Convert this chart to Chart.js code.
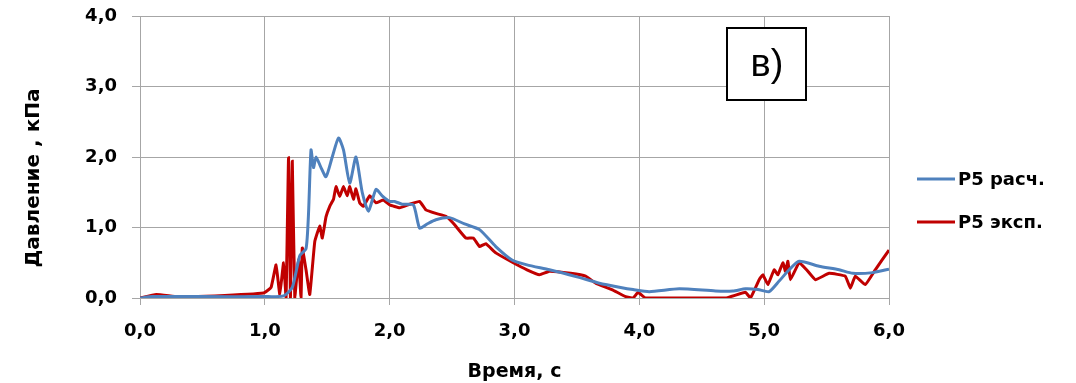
<!DOCTYPE html>
<html><head><meta charset="utf-8">
<script src="https://cdn.jsdelivr.net/npm/chart.js@4"></script>
<style>html,body{margin:0;padding:0;background:#fff}#wrap{width:1076px;height:383px}</style>
</head><body><div id="wrap"><canvas id="c" width="1076" height="383"></canvas></div>
<script>
const seriesNames = ["P5 расч.", "P5 эксп."];
const xTicks = [0, 1, 2, 3, 4, 5, 6];
const yTicks = [0, 1, 2, 3, 4];
const panelLabel = "в)";
const xTitle = "Время, с";
const yTitle = "Давление , кПа";

const timeCalc = [0, 0.1, 0.5, 1.0, 1.15, 1.22, 1.28, 1.33, 1.35, 1.37, 1.39, 1.41, 1.45, 1.49, 1.54, 1.59, 1.63, 1.68, 1.73, 1.78, 1.83, 1.89, 1.94, 2.0, 2.04, 2.1, 2.19, 2.24, 2.3, 2.37, 2.48, 2.6, 2.72, 2.85, 2.98, 3.1, 3.28, 3.5, 3.68, 3.85, 3.95, 4.08, 4.32, 4.61, 4.75, 4.85, 4.95, 5.04, 5.12, 5.2, 5.28, 5.44, 5.6, 5.71, 5.87, 6.0];
const pressureCalc = [0, 0.02, 0.02, 0.02, 0.03, 0.15, 0.6, 0.7, 1.2, 2.1, 1.85, 2.0, 1.85, 1.72, 2.0, 2.27, 2.1, 1.63, 2.0, 1.5, 1.23, 1.54, 1.45, 1.37, 1.37, 1.33, 1.32, 0.99, 1.05, 1.11, 1.14, 1.05, 0.97, 0.73, 0.54, 0.47, 0.40, 0.30, 0.21, 0.15, 0.12, 0.09, 0.13, 0.10, 0.10, 0.13, 0.12, 0.09, 0.24, 0.4, 0.52, 0.45, 0.40, 0.35, 0.36, 0.41];

const timeExp = [0, 0.13, 0.3, 0.6, 0.99, 1.05, 1.09, 1.12, 1.15, 1.17, 1.19, 1.205, 1.22, 1.24, 1.27, 1.29, 1.30, 1.33, 1.36, 1.40, 1.44, 1.46, 1.49, 1.52, 1.55, 1.57, 1.60, 1.63, 1.66, 1.68, 1.71, 1.73, 1.76, 1.79, 1.84, 1.89, 1.95, 2.0, 2.08, 2.16, 2.24, 2.29, 2.37, 2.45, 2.51, 2.61, 2.67, 2.72, 2.77, 2.85, 2.99, 3.1, 3.2, 3.28, 3.45, 3.57, 3.65, 3.78, 3.89, 3.95, 3.99, 4.05, 4.3, 4.69, 4.85, 4.89, 4.96, 4.99, 5.03, 5.08, 5.11, 5.15, 5.17, 5.19, 5.21, 5.28, 5.34, 5.41, 5.52, 5.65, 5.69, 5.73, 5.81, 5.89, 6.0];
const pressureExp = [0, 0.05, 0.02, 0.03, 0.07, 0.15, 0.47, 0.05, 0.5, 0.0, 1.99, 0.0, 1.94, 0.0, 0.55, 0.0, 0.71, 0.4, 0.05, 0.8, 1.02, 0.85, 1.15, 1.3, 1.4, 1.58, 1.44, 1.58, 1.45, 1.58, 1.4, 1.55, 1.35, 1.30, 1.45, 1.35, 1.39, 1.32, 1.28, 1.33, 1.37, 1.25, 1.2, 1.16, 1.06, 0.85, 0.85, 0.73, 0.77, 0.64, 0.50, 0.40, 0.33, 0.38, 0.35, 0.31, 0.21, 0.12, 0.02, 0.0, 0.08, 0.0, 0.0, 0.0, 0.08, 0.0, 0.26, 0.33, 0.19, 0.4, 0.33, 0.5, 0.38, 0.52, 0.26, 0.5, 0.4, 0.26, 0.35, 0.31, 0.14, 0.31, 0.19, 0.40, 0.68];

const colors = ["#4F81BD", "#C00000"];
const FONT = "'DejaVu Sans', Verdana, sans-serif";
const BOXFONT = "'Liberation Sans', Arial, sans-serif";
const fmt = v => Number(v).toFixed(1).replace('.', ',');

const toPts = (xs, ys) => xs.map((x, i) => ({x: x, y: ys[i]}));

const overlay = {
  id: 'overlay',
  afterDraw(chart) {
    const ctx = chart.ctx;
    ctx.save();
    // y-axis title
    ctx.save();
    ctx.translate(34, 178);
    ctx.rotate(-Math.PI / 2);
    ctx.fillStyle = '#000';
    ctx.font = "bold 20px " + FONT;
    ctx.textAlign = 'center';
    ctx.textBaseline = 'middle';
    ctx.fillText(yTitle, 0, 0);
    ctx.restore();
    // panel label box
    ctx.fillStyle = '#fff';
    ctx.fillRect(727, 28, 79, 72);
    ctx.strokeStyle = '#000';
    ctx.lineWidth = 2;
    ctx.strokeRect(727, 28, 79, 72);
    ctx.fillStyle = '#000';
    ctx.font = "38px " + BOXFONT;
    ctx.textAlign = 'center';
    ctx.textBaseline = 'middle';
    ctx.fillText(panelLabel, 767, 66);
    // legend
    const ys = [179, 222];
    chart.data.datasets.forEach((ds, i) => {
      ctx.strokeStyle = ds.borderColor;
      ctx.lineWidth = 3;
      ctx.beginPath();
      ctx.moveTo(917, ys[i]);
      ctx.lineTo(955, ys[i]);
      ctx.stroke();
      ctx.fillStyle = '#000';
      ctx.font = "bold 18px " + FONT;
      ctx.textAlign = 'left';
      ctx.textBaseline = 'middle';
      ctx.fillText(ds.label, 958, ys[i] + 1);
    });
    ctx.restore();
  }
};

new Chart(document.getElementById('c'), {
  type: 'line',
  data: {
    datasets: [
      {label: seriesNames[0], data: toPts(timeCalc, pressureCalc), borderColor: colors[0], backgroundColor: colors[0], borderWidth: 3, pointRadius: 0, tension: 0.2, fill: false},
      {label: seriesNames[1], data: toPts(timeExp, pressureExp), borderColor: colors[1], backgroundColor: colors[1], borderWidth: 3, pointRadius: 0, tension: 0.1, fill: false}
    ]
  },
  options: {
    responsive: false,
    animation: false,
    layout: {padding: {left: 24, right: 187, top: 16, bottom: 0}},
    plugins: {legend: {display: false}, tooltip: {enabled: false}},
    scales: {
      x: {
        type: 'linear', min: 0, max: 6,
        afterBuildTicks: s => { s.ticks = xTicks.map(v => ({value: v})); },
        afterFit: s => { s.height = 85; },
        grid: {color: '#A6A6A6', lineWidth: 1, tickLength: 7, drawTicks: true},
        border: {color: '#A6A6A6', width: 1},
        ticks: {callback: fmt, color: '#000', font: {family: FONT, weight: 'bold', size: 18}, padding: 16, maxRotation: 0},
        title: {display: true, text: xTitle, color: '#000', font: {family: FONT, weight: 'bold', size: 19}, padding: {top: 9, bottom: 0}}
      },
      y: {
        min: 0, max: 4,
        afterBuildTicks: s => { s.ticks = yTicks.map(v => ({value: v})); },
        afterFit: s => { s.width = 116; s.paddingTop = 0; s.paddingBottom = 0; },
        grid: {color: '#A6A6A6', lineWidth: 1, tickLength: 8, drawTicks: true},
        border: {color: '#A6A6A6', width: 1},
        ticks: {callback: fmt, color: '#000', font: {family: FONT, weight: 'bold', size: 18}, padding: 15}
      }
    }
  },
  plugins: [overlay]
});
</script>
</body></html>
